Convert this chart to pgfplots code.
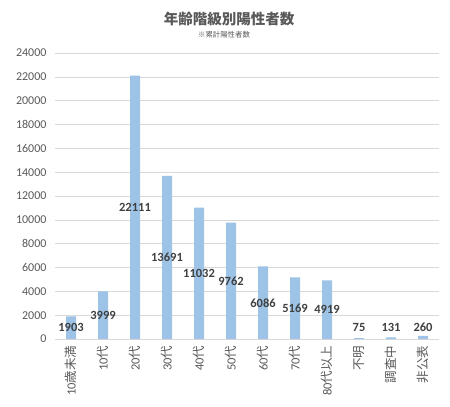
\documentclass[border=0pt]{standalone}
\usepackage{fontspec}
\setmainfont{Carlito}
\newfontfamily\cjk{Noto Sans CJK JP}
\usepackage{pgfplots}
\pgfplotsset{compat=1.18}
\definecolor{barblue}{HTML}{9DC3E6}
\definecolor{gridgray}{HTML}{D9D9D9}
\definecolor{ticktext}{HTML}{595959}
\definecolor{labtext}{HTML}{404040}
\begin{document}
\begin{tikzpicture}
\path[use as bounding box] (0,0) rectangle (450pt,407pt);
\node[font=\cjk\bfseries\fontsize{14.5}{16}\selectfont, text=ticktext] at (229pt,388.5pt) {年齢階級別陽性者数};
\node[font=\cjk\fontsize{7.4}{8}\selectfont, text=ticktext] at (224pt,372.5pt) {※累計陽性者数};
\begin{axis}[
    at={(55pt,68pt)}, anchor=south west,
    scale only axis,
    width=384pt, height=286pt,
    xmin=-0.5, xmax=11.5,
    ymin=0, ymax=24000,
    ytick={0,2000,...,24000},
    xtick={0,...,11},
    xticklabels={
        {10{\cjk 歳未満}},
        {10{\cjk 代}},
        {20{\cjk 代}},
        {30{\cjk 代}},
        {40{\cjk 代}},
        {50{\cjk 代}},
        {60{\cjk 代}},
        {70{\cjk 代}},
        {80{\cjk 代以上}},
        {{\cjk 不明}},
        {{\cjk 調査中}},
        {{\cjk 非公表}}
    },
    x tick label style={rotate=90, anchor=east, font=\fontsize{12.5}{14}\selectfont, text=ticktext, xshift=-3pt},
    y tick label style={font=\fontsize{12}{14}\selectfont, text=ticktext, xshift=-5pt},
    /pgf/number format/assume math mode=true,
    /pgf/number format/1000 sep={},
    scaled y ticks=false,
    axis x line*=bottom,
    axis y line*=left,
    y axis line style={draw=none},
    x axis line style={draw=gridgray, -},
    major tick length=0pt,
    ymajorgrids,
    grid style={gridgray, line width=0.6pt},
    clip=false,
]
\addplot[ybar, bar width=10pt, fill=barblue, draw=none] table[x=x, y=v] {
x v
0 1903
1 3999
2 22111
3 13691
4 11032
5 9762
6 6086
7 5169
8 4919
9 75
10 131
11 260
};
\addplot[draw=none, mark=none, nodes near coords, point meta=explicit,
    every node near coord/.style={anchor=center, font=\bfseries\fontsize{12.5}{14}\selectfont, text=labtext}]
    table[x=x, y=ly, meta=v] {
x v ly
0 1903 951
1 3999 2000
2 22111 11055
3 13691 6845
4 11032 5516
5 9762 4881
6 6086 3043
7 5169 2585
8 4919 2460
9 75 1000
10 131 1000
11 260 1000
};
\end{axis}
\end{tikzpicture}
\end{document}
